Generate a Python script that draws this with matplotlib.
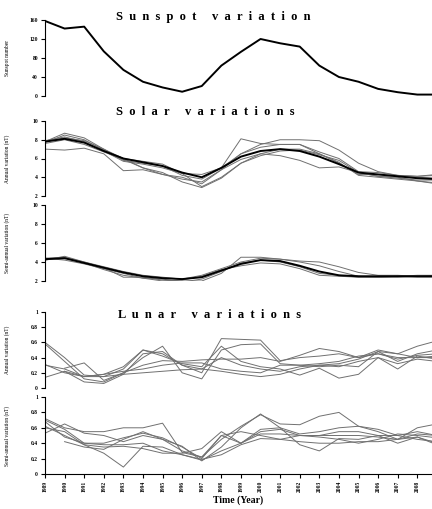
import numpy as np
import matplotlib
matplotlib.use("Agg")
import matplotlib.pyplot as plt

plt.rcParams["font.family"] = ["Liberation Serif", "DejaVu Serif"]
plt.rcParams["font.weight"] = "bold"

# Data
years = list(range(1989, 2010))
nan = np.nan

sunspot = [158, 142, 146, 94, 55, 30, 18, 9, 21, 64, 93, 120, 111, 104,
           64, 40, 30, 15, 8, 3, 3]

# solar annual variation (nT): stations + mean (black)
solar_annual = [
    [7.8, 8.7, 8.2, 7.0, 5.8, 5.5, 5.2, 4.2, 3.8, 5.0, 8.1, 7.6, 7.5, 7.5, 6.5, 5.5, 4.3, 4.3, 4.1, 4.0, 3.9],
    [7.7, 8.5, 8.0, 6.9, 6.0, 5.0, 4.3, 3.8, 3.5, 4.8, 6.5, 7.5, 8.0, 8.0, 7.9, 6.9, 5.5, 4.6, 4.2, 4.1, 4.3],
    [7.0, 6.9, 7.1, 6.5, 4.7, 4.8, 4.3, 4.0, 3.3, 4.8, 5.9, 6.5, 6.3, 5.8, 5.0, 5.1, 4.5, 4.1, 4.0, 3.6, 3.4],
    [7.9, 8.3, 7.8, 6.8, 5.7, 5.4, 5.0, 4.4, 3.0, 4.0, 5.5, 6.3, 6.8, 6.9, 6.4, 5.8, 4.5, 4.1, 3.9, 3.7, 3.7],
    [7.6, 8.0, 7.5, 6.7, 5.9, 5.0, 4.5, 3.5, 2.9, 3.9, 5.5, 6.5, 7.0, 7.0, 6.5, 5.6, 4.2, 4.0, 3.8, 3.6, 3.3],
    [7.8, 8.2, 7.9, 7.0, 6.0, 5.7, 5.4, 4.4, 4.3, 5.0, 6.5, 7.2, 7.5, 7.5, 6.7, 6.0, 4.6, 4.5, 4.2, 4.1, 4.2],
]
solar_annual_mean = [7.8, 8.1, 7.7, 6.8, 6.0, 5.6, 5.2, 4.5, 4.0, 5.0, 6.2, 6.8, 7.0, 6.8, 6.2, 5.4, 4.5, 4.3, 4.1, 3.9, 3.8]

# solar semi-annual variation (nT)
solar_semi = [
    [4.2, 4.6, 4.0, 3.4, 2.4, 2.4, 2.1, 2.0, 2.0, 2.8, 4.5, 4.5, 4.3, 4.0, 3.6, 3.0, 2.5, 2.4, 2.5, 2.6, 2.6],
    [4.4, 4.2, 3.8, 3.3, 2.8, 2.3, 2.0, 2.1, 2.5, 3.2, 3.6, 3.9, 3.8, 3.3, 2.6, 2.5, 2.4, 2.4, 2.5, 2.4, 2.4],
    [4.2, 4.5, 4.0, 3.5, 3.0, 2.6, 2.4, 2.2, 2.6, 3.3, 4.0, 4.4, 4.3, 4.1, 4.0, 3.5, 2.9, 2.6, 2.6, 2.5, 2.5],
    [4.4, 4.5, 3.9, 3.2, 2.6, 2.3, 2.2, 1.9, 2.2, 3.0, 3.9, 4.2, 4.0, 3.5, 2.8, 2.6, 2.4, 2.4, 2.4, 2.5, 2.6],
]
solar_semi_mean = [4.3, 4.4, 3.9, 3.4, 2.9, 2.5, 2.3, 2.2, 2.4, 3.1, 3.8, 4.2, 4.1, 3.6, 3.0, 2.6, 2.5, 2.5, 2.5, 2.5, 2.5]

# lunar annual variation (nT)
lunar_annual = [
    [0.60, 0.40, 0.17, 0.15, 0.25, 0.50, 0.45, 0.30, 0.20, 0.65, 0.64, 0.63, 0.36, 0.40, 0.42, 0.45, 0.40, 0.50, 0.45, 0.40, 0.40],
    [0.58, 0.35, 0.12, 0.08, 0.20, 0.40, 0.55, 0.20, 0.12, 0.50, 0.57, 0.58, 0.32, 0.30, 0.28, 0.30, 0.28, 0.48, 0.35, 0.45, 0.50],
    [0.31, 0.20, 0.15, 0.18, 0.28, 0.50, 0.42, 0.32, 0.28, 0.55, 0.35, 0.28, 0.25, 0.17, 0.26, 0.13, 0.18, 0.40, 0.25, 0.42, 0.38],
    [0.14, 0.22, 0.08, 0.06, 0.18, 0.45, 0.48, 0.30, 0.25, 0.40, 0.30, 0.25, 0.22, 0.28, 0.30, 0.32, 0.38, 0.48, 0.45, 0.55, 0.62],
    [nan, 0.26, 0.33, 0.10, 0.20, 0.30, 0.36, 0.35, 0.37, 0.38, 0.38, 0.40, 0.35, 0.43, 0.52, 0.48, 0.40, 0.45, 0.38, 0.43, 0.45],
    [nan, 0.22, 0.15, 0.18, 0.22, 0.25, 0.30, 0.33, 0.33, 0.25, 0.22, 0.20, 0.30, 0.30, 0.32, 0.35, 0.42, 0.45, 0.40, 0.40, 0.42],
    [0.30, 0.25, 0.15, 0.15, 0.18, 0.20, 0.22, 0.24, 0.25, 0.22, 0.18, 0.15, 0.18, 0.25, 0.30, 0.28, 0.35, 0.40, 0.32, 0.38, 0.35],
]

# lunar semi-annual variation (nT)
lunar_semi = [
    [0.70, 0.58, 0.40, 0.40, 0.47, 0.53, 0.47, 0.35, 0.20, 0.50, 0.40, 0.55, 0.58, 0.50, 0.50, 0.50, 0.50, 0.48, 0.45, 0.52, 0.50],
    [0.72, 0.60, 0.55, 0.55, 0.60, 0.60, 0.66, 0.28, 0.22, 0.45, 0.62, 0.77, 0.65, 0.64, 0.75, 0.80, 0.62, 0.55, 0.45, 0.60, 0.65],
    [0.53, 0.65, 0.53, 0.50, 0.42, 0.50, 0.45, 0.36, 0.17, 0.35, 0.60, 0.78, 0.60, 0.38, 0.30, 0.46, 0.45, 0.50, 0.40, 0.48, 0.38],
    [0.60, 0.55, 0.38, 0.27, 0.09, 0.36, 0.35, 0.25, 0.18, 0.30, 0.40, 0.58, 0.60, 0.52, 0.55, 0.60, 0.62, 0.58, 0.50, 0.55, 0.50],
    [nan, 0.42, 0.35, 0.32, 0.45, 0.55, 0.45, 0.30, 0.22, 0.50, 0.55, 0.50, 0.45, 0.50, 0.50, 0.55, 0.55, 0.50, 0.50, 0.45, 0.42],
    [0.68, 0.48, 0.40, 0.38, 0.38, 0.40, 0.30, 0.25, 0.19, 0.25, 0.38, 0.46, 0.45, 0.42, 0.40, 0.40, 0.42, 0.42, 0.45, 0.48, 0.40],
    [0.62, 0.50, 0.38, 0.35, 0.36, 0.33, 0.27, 0.27, 0.33, 0.55, 0.40, 0.52, 0.52, 0.50, 0.48, 0.45, 0.40, 0.45, 0.52, 0.50, 0.47],
]

GRAY = "#707070"
W, H = 432, 509

fig = plt.figure(figsize=(W / 100, H / 100), dpi=100)


def make_ax(top_px, bot_px):
    left = 45 / W
    bottom = 1 - bot_px / H
    height = (bot_px - top_px) / H
    ax = fig.add_axes([left, bottom, 1 - left, height])
    for s in ["top", "right", "bottom"]:
        ax.spines[s].set_visible(False)
    ax.spines["left"].set_linewidth(0.8)
    ax.tick_params(axis="y", length=3, width=0.8, labelsize=4, pad=2)
    ax.set_xlim(1989, 2008.75)
    ax.set_xticks([])
    return ax


def spaced(title):
    # wide letter spacing like the original figure
    return "     ".join("  ".join(word) for word in title.split())


# Sunspot panel
ax1 = make_ax(20, 96)
ax1.plot(years, sunspot, color="black", lw=1.4)
ax1.set_ylim(0, 160)
ax1.set_yticks([0, 40, 80, 120, 160])
ax1.set_ylabel("Sunspot number", fontsize=4, fontweight="normal")

# Solar annual
ax2 = make_ax(121, 196)
for s in solar_annual:
    ax2.plot(years, s, color=GRAY, lw=0.7)
ax2.plot(years, solar_annual_mean, color="black", lw=1.4)
ax2.set_ylim(2, 10)
ax2.set_yticks([2, 4, 6, 8, 10])
ax2.set_ylabel("Annual variation (nT)", fontsize=4, fontweight="normal")

# Solar semi-annual
ax3 = make_ax(205, 281)
for s in solar_semi:
    ax3.plot(years, s, color=GRAY, lw=0.7)
ax3.plot(years, solar_semi_mean, color="black", lw=1.4)
ax3.set_ylim(2, 10)
ax3.set_yticks([2, 4, 6, 8, 10])
ax3.set_ylabel("Semi-annual variation (nT)", fontsize=4, fontweight="normal")

# Lunar annual
ax4 = make_ax(312, 388)
for s in lunar_annual:
    ax4.plot(years, s, color=GRAY, lw=0.7)
ax4.set_ylim(0, 1)
ax4.set_yticks([0, 0.2, 0.4, 0.6, 0.8, 1])
ax4.set_yticklabels(["0", "0.2", "0.4", "0.6", "0.8", "1"])
ax4.set_ylabel("Annual variation (nT)", fontsize=4, fontweight="normal")

# Lunar semi-annual
ax5 = make_ax(397, 474)
for s in lunar_semi:
    ax5.plot(years, s, color=GRAY, lw=0.7)
ax5.set_ylim(0, 1)
ax5.set_yticks([0, 0.2, 0.4, 0.6, 0.8, 1])
ax5.set_yticklabels(["0", "0.2", "0.4", "0.6", "0.8", "1"])
ax5.set_ylabel("Semi-annual variation (nT)", fontsize=4, fontweight="normal")
ax5.spines["bottom"].set_visible(True)
ax5.spines["bottom"].set_linewidth(0.8)
ax5.set_xticks(years[:-1])
ax5.set_xticklabels([str(y) for y in years[:-1]], rotation=90, fontsize=4)
ax5.tick_params(axis="x", length=3, width=0.8, pad=2)
ax5.set_xlabel("Time (Year)", fontsize=7, fontweight="bold", labelpad=2)

for ax in [ax1, ax2, ax3, ax4, ax5]:
    ax.yaxis.set_label_coords(-0.09, 0.5)

# Titles
fig.text(213 / W, 1 - 17 / H, spaced("Sunspot variation"),
         ha="center", va="center", fontsize=9, fontweight="bold")
fig.text(205 / W, 1 - 112 / H, spaced("Solar variations"),
         ha="center", va="center", fontsize=9, fontweight="bold")
fig.text(209 / W, 1 - 315 / H, spaced("Lunar variations"),
         ha="center", va="center", fontsize=9, fontweight="bold")

fig.savefig("out.png", dpi=100)
